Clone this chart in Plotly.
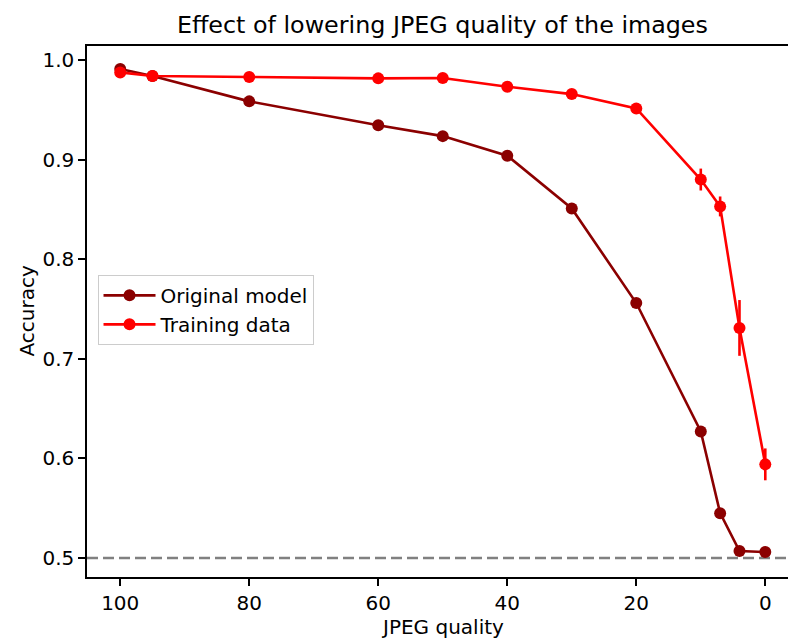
import plotly.graph_objects as go

# ---- data ----
quality = [100, 95, 80, 60, 50, 40, 30, 20, 10, 7, 4, 0]
original_acc = [0.991, 0.984, 0.9585, 0.9345, 0.9236, 0.904, 0.851, 0.756, 0.627, 0.545, 0.507, 0.506]
training_acc = [0.9876, 0.984, 0.983, 0.9816, 0.982, 0.9732, 0.9658, 0.9514, 0.880, 0.853, 0.731, 0.594]
training_err = [0.003, 0.003, 0.002, 0.002, 0.002, 0.003, 0.003, 0.004, 0.011, 0.010, 0.028, 0.016]
x_ticks = [100, 80, 60, 40, 20, 0]
y_ticks = [0.5, 0.6, 0.7, 0.8, 0.9, 1.0]
y_tick_text = ["0.5", "0.6", "0.7", "0.8", "0.9", "1.0"]
chance_level = 0.5

FONT = "DejaVu Sans"
DARK = "#8b0000"
RED = "#ff0000"

fig = go.Figure()
fig.add_trace(go.Scatter(
    x=quality, y=original_acc, mode="lines+markers", name="Original model",
    line=dict(color=DARK, width=2.6), marker=dict(color=DARK, size=12),
))
fig.add_trace(go.Scatter(
    x=quality, y=training_acc, mode="lines+markers", name="Training data",
    line=dict(color=RED, width=2.6), marker=dict(color=RED, size=12),
    error_y=dict(type="data", array=training_err, visible=True, color=RED, thickness=2.6, width=0),
))

fig.add_shape(type="line", xref="paper", x0=0, x1=1, yref="y", y0=chance_level, y1=chance_level,
              line=dict(color="#808080", width=2.6, dash="11px,5px"), layer="below")

fig.update_layout(
    width=788, height=640,
    margin=dict(l=87, r=0, t=46, b=63, pad=0),
    paper_bgcolor="white", plot_bgcolor="white",
    font=dict(family=FONT, size=20, color="black"),
    title=dict(text="Effect of lowering JPEG quality of the images", font=dict(family=FONT, size=23.8, color="black"),
               xref="paper", x=0.507, xanchor="center", yref="container", y=1 - 25 / 640, yanchor="middle"),
    showlegend=True,
    legend=dict(x=0.015, y=0.569, xanchor="left", yanchor="top", bgcolor="rgba(255,255,255,0.8)",
                bordercolor="#cccccc", borderwidth=1, itemwidth=52,
                font=dict(family=FONT, size=20, color="black")),
    xaxis=dict(range=[105.15, -3.52], tickvals=x_ticks, ticktext=[str(v) for v in x_ticks],
               showline=True, linecolor="black", linewidth=1.5, mirror=True,
               ticks="outside", ticklen=7, tickwidth=1.5, tickcolor="black",
               showgrid=False, zeroline=False, tickfont=dict(family=FONT, size=20, color="black")),
    yaxis=dict(range=[0.4809, 1.0141], tickvals=y_ticks, ticktext=y_tick_text,
               showline=True, linecolor="black", linewidth=1.5, mirror=False,
               ticks="outside", ticklen=7, tickwidth=1.5, tickcolor="black",
               showgrid=False, zeroline=False, tickfont=dict(family=FONT, size=20, color="black")),
    annotations=[
        dict(text="JPEG quality", xref="paper", yref="paper", x=0.507, y=0, yshift=-50,
             xanchor="center", yanchor="middle", showarrow=False, font=dict(family=FONT, size=20, color="black")),
        dict(text="Accuracy", xref="paper", yref="paper", x=0, y=0.5, xshift=-61, textangle=-90,
             xanchor="center", yanchor="middle", showarrow=False, font=dict(family=FONT, size=20, color="black")),
    ],
)

fig.write_html("out.html")
